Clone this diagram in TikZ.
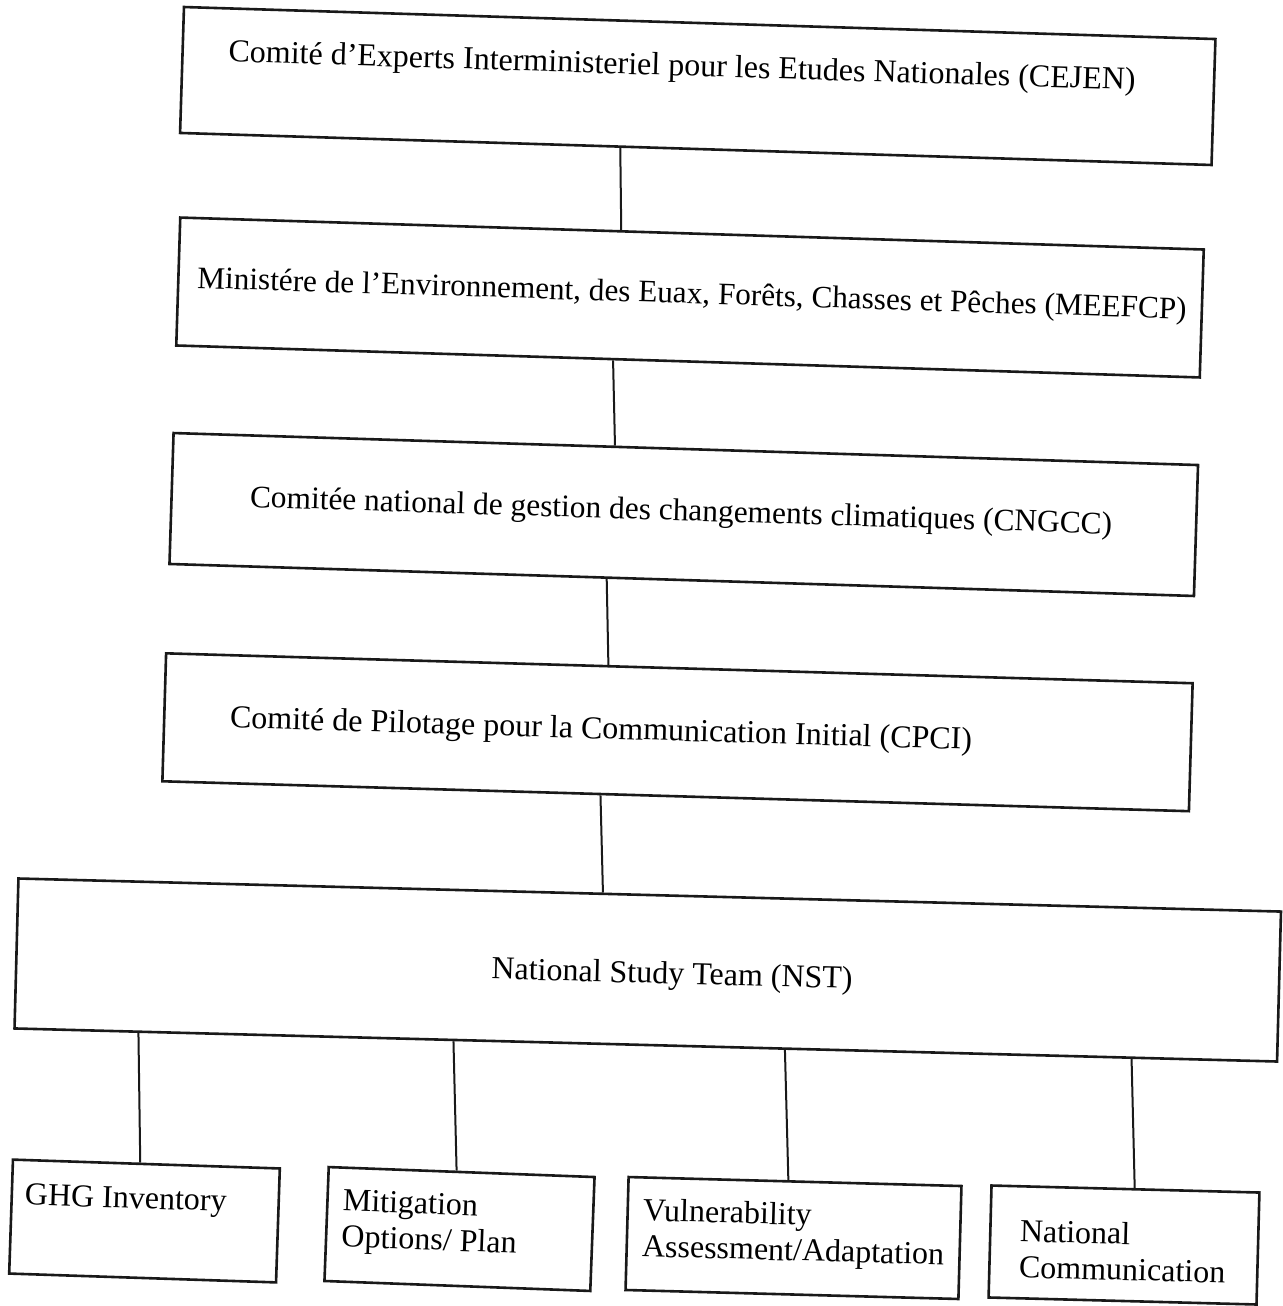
\documentclass[tikz,border=0pt]{standalone}
\usepackage{fontspec}
\setmainfont{Liberation Serif}
\usetikzlibrary{calc}
\begin{document}
\begin{tikzpicture}[x=0.5pt,y=-0.5pt,
  box/.style={draw=black!90, line width=1.3pt, inner sep=0pt},
  ttl/.style={inner sep=0pt, font=\fontsize{16}{19}\selectfont},
  sub/.style={inner sep=0pt, align=left, anchor=north west, font=\fontsize{16}{18}\selectfont},
  conn/.style={draw=black!90, line width=1pt}]
\fill[white] (0,0) rectangle (1282,1306);
\useasboundingbox (0,0) rectangle (1282,1306);
% main boxes
\node[box, minimum width=516pt, minimum height=63pt, rotate=-1.78] (b1) at (697.75,86) {};
\node[box, minimum width=512pt, minimum height=64pt, rotate=-1.79] (b2) at (690,297.5) {};
\node[box, minimum width=512.5pt, minimum height=65.5pt, rotate=-1.79] (b3) at (683.75,514.5) {};
\node[box, minimum width=513.5pt, minimum height=64pt, rotate=-1.67] (b4) at (677.5,732.25) {};
\node[box, minimum width=631.5pt, minimum height=75pt, rotate=-1.5] (nst) at (647.75,970) {};
% titles
\node[ttl, rotate=-1.78] (t1) at (682,68) {Comité d’Experts Interministeriel pour les Etudes Nationales (CEJEN)};
\node[ttl, rotate=-1.79, font=\fontsize{15.6}{19}\selectfont] (t2) at (692,296) {Ministére de l’Environnement, des Euax, Forêts, Chasses et Pêches (MEEFCP)};
\node[ttl, rotate=-1.79, font=\fontsize{15.7}{19}\selectfont] (t3) at (681,513) {Comitée national de gestion des changements climatiques (CNGCC)};
\node[ttl, rotate=-1.67] (t4) at (601,731) {Comité de Pilotage pour la Communication Initial (CPCI)};
\node[ttl, rotate=-1.5] (t5) at (672,976) {National Study Team (NST)};
% bottom boxes
\node[box, minimum width=133.5pt, minimum height=57pt, rotate=-1.9] (ghg) at (144.5,1221) {};
\node[box, minimum width=133pt, minimum height=57pt, rotate=-2.15] (mit) at (459.5,1229) {};
\node[box, minimum width=166.5pt, minimum height=56.5pt, rotate=-1.55] (vul) at (793.5,1238) {};
\node[box, minimum width=134pt, minimum height=56pt, rotate=-1.5] (nat) at (1124,1245) {};
\node[sub, rotate=-1.9] (s1) at (25,1183) {GHG Inventory};
\node[sub, rotate=-2.15] (s2) at (343,1189) {Mitigation\\Options/ Plan};
\node[sub, rotate=-1.55] (s3) at (643,1198) {Vulnerability\\Assessment/Adaptation};
\node[sub, rotate=-1.5] (s4) at (1020,1219) {National\\Communication};
% connectors
\draw[conn] ($(b1.south west)!0.427!(b1.south east)$) -- ($(b2.north west)!0.431!(b2.north east)$);
\draw[conn] ($(b2.south west)!0.427!(b2.south east)$) -- ($(b3.north west)!0.431!(b3.north east)$);
\draw[conn] ($(b3.south west)!0.427!(b3.south east)$) -- ($(b4.north west)!0.431!(b4.north east)$);
\draw[conn] ($(b4.south west)!0.427!(b4.south east)$) -- ($(nst.north west)!0.463!(nst.north east)$);
\draw[conn] ($(nst.south west)!0.099!(nst.south east)$) -- ($(ghg.north west)!0.477!(ghg.north east)$);
\draw[conn] ($(nst.south west)!0.348!(nst.south east)$) -- ($(mit.north west)!0.481!(mit.north east)$);
\draw[conn] ($(nst.south west)!0.610!(nst.south east)$) -- ($(vul.north west)!0.48!(vul.north east)$);
\draw[conn] ($(nst.south west)!0.884!(nst.south east)$) -- ($(nat.north west)!0.534!(nat.north east)$);
\end{tikzpicture}
\end{document}
